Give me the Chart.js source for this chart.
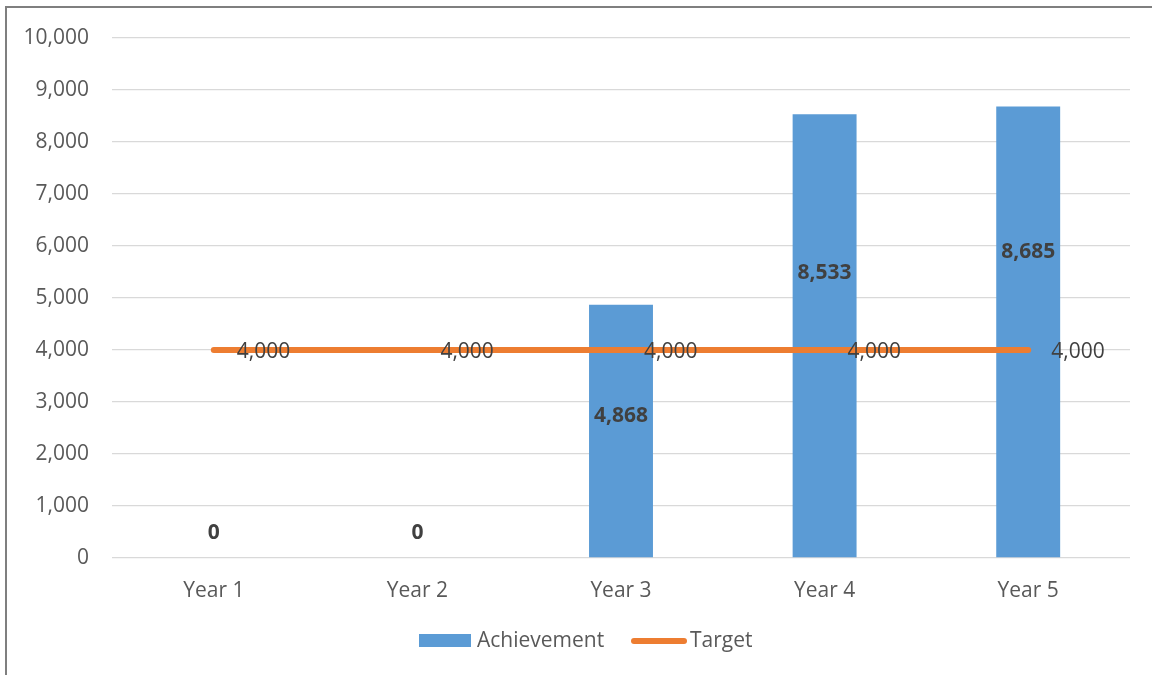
<!DOCTYPE html>
<html><head><meta charset="utf-8">
<script src="https://cdn.jsdelivr.net/npm/chart.js@4"></script>
<style>html,body{margin:0;padding:0;background:#fff}#wrap{width:1152px;height:675px;position:relative}</style>
</head><body><div id="wrap"><canvas id="c"></canvas></div>
<script>
const categories = ["Year 1", "Year 2", "Year 3", "Year 4", "Year 5"];
const achievement = [0, 0, 4868, 8533, 8685];
const target = [4000, 4000, 4000, 4000, 4000];
const seriesNames = ["Achievement", "Target"];
const yTicks = [0, 1000, 2000, 3000, 4000, 5000, 6000, 7000, 8000, 9000, 10000];

const FONT = "'Open Sans', 'Liberation Sans', sans-serif";
const fmt = v => Number(v).toLocaleString('en-US');
// pixel offsets of the achievement labels relative to the bar middle (zero bars: above base)
const achLabelShift = [-25, -25, -15, -63, -80];

const decor = {
  id: 'decor',
  beforeDraw(chart) {
    const ctx = chart.ctx;
    ctx.save();
    ctx.strokeStyle = '#7f7f7f';
    ctx.lineWidth = 2;
    ctx.beginPath();
    ctx.moveTo(6, 675); ctx.lineTo(6, 7); ctx.lineTo(1152, 7);
    ctx.stroke();
    ctx.restore();
  },
  afterDatasetsDraw(chart) {
    const ctx = chart.ctx;
    ctx.save();
    const barMeta = chart.getDatasetMeta(0);
    ctx.font = "bold 21px " + FONT;
    ctx.fillStyle = '#404040';
    ctx.textAlign = 'center';
    ctx.textBaseline = 'middle';
    barMeta.data.forEach((el, i) => {
      const v = achievement[i];
      let y;
      if (v === 0) y = el.base + achLabelShift[i];
      else y = (el.y + el.base) / 2 + achLabelShift[i];
      ctx.fillText(fmt(v), el.x, y);
    });
    const lineMeta = chart.getDatasetMeta(1);
    ctx.font = "21px " + FONT;
    ctx.textAlign = 'left';
    lineMeta.data.forEach((el, i) => {
      ctx.fillText(fmt(target[i]), el.x + 23, el.y + 2);
    });
    const ly = 641;
    ctx.fillStyle = '#5B9BD5';
    ctx.fillRect(419, ly - 7, 52, 13);
    ctx.fillStyle = '#595959';
    ctx.font = "21px " + FONT;
    ctx.textBaseline = 'middle';
    ctx.fillText(seriesNames[0], 477, ly);
    ctx.strokeStyle = '#ED7D31';
    ctx.lineWidth = 6;
    ctx.lineCap = 'round';
    ctx.beginPath(); ctx.moveTo(634, ly); ctx.lineTo(684, ly); ctx.stroke();
    ctx.fillText(seriesNames[1], 690, ly);
    ctx.restore();
  }
};

new Chart(document.getElementById('c'), {
  data: {
    labels: categories,
    datasets: [
      { type: 'bar', label: seriesNames[0], data: achievement, backgroundColor: '#5B9BD5',
        barPercentage: 0.314, categoryPercentage: 1, order: 2 },
      { type: 'line', label: seriesNames[1], data: target, borderColor: '#ED7D31', borderWidth: 6,
        borderCapStyle: 'round', pointRadius: 0, pointHoverRadius: 0, fill: false, order: 1 }
    ]
  },
  options: {
    responsive: true, maintainAspectRatio: false, animation: false,
    layout: { padding: { top: 38, right: 22, left: 0, bottom: 0 } },
    plugins: { legend: { display: false }, tooltip: { enabled: false } },
    scales: {
      x: {
        grid: { display: false }, border: { display: false },
        ticks: { color: '#595959', font: { family: FONT, size: 21 }, padding: 12 },
        afterFit(s) { s.height = 117; }
      },
      y: {
        min: 0, max: 10000,
        afterBuildTicks(s) { s.ticks = yTicks.map(v => ({ value: v })); },
        grid: { color: '#D9D9D9', lineWidth: 1.3, drawTicks: false },
        border: { display: false },
        ticks: { color: '#595959', font: { family: FONT, size: 21 }, padding: 23, callback: v => fmt(v) },
        afterFit(s) { s.width = 112; }
      }
    }
  },
  plugins: [decor]
});
</script></body></html>
